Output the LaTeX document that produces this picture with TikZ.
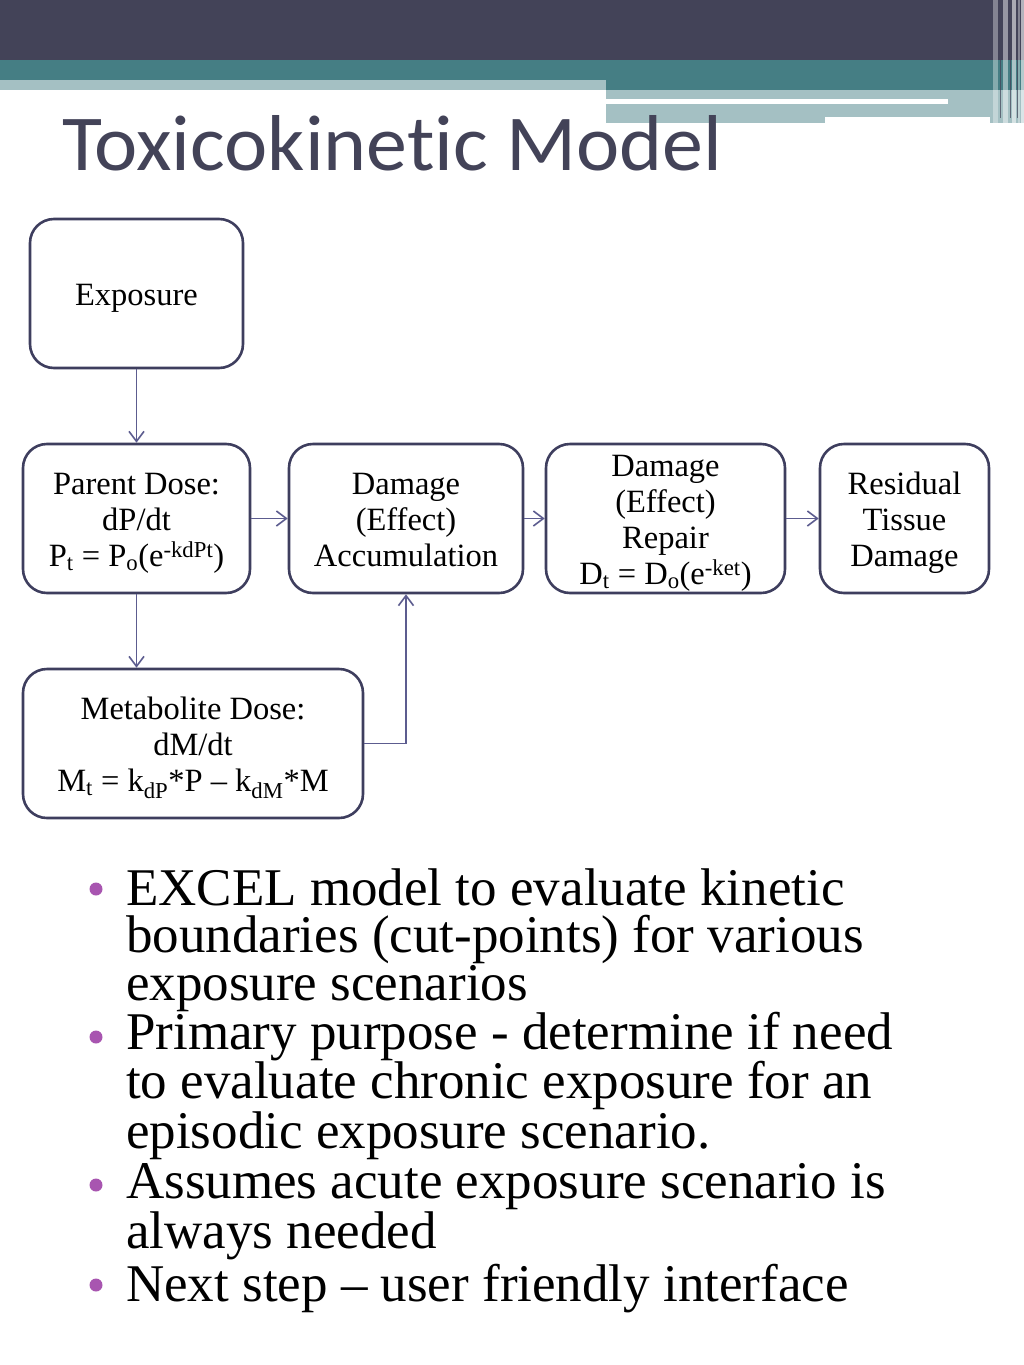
\documentclass[tikz,border=0pt]{standalone}
\usepackage{fontspec}
\setmainfont{Liberation Serif}
\newfontfamily\titlefont[Ligatures={NoCommon,NoRequired,NoContextual}]{Carlito}
\usetikzlibrary{arrows.meta}
\definecolor{darkband}{RGB}{67,67,88}
\definecolor{tealband}{RGB}{69,126,132}
\definecolor{lightband}{RGB}{164,192,195}
\definecolor{boxline}{RGB}{62,62,94}
\definecolor{arrowc}{RGB}{92,92,143}
\definecolor{bulletc}{RGB}{168,85,176}
\newcommand{\topstrut}{\rule{0pt}{31pt}}
\newcommand{\botstrut}{\rule[-8pt]{0pt}{8pt}}
\tikzset{
  flowbox/.style={draw=boxline, line width=2.6pt, rounded corners=24pt, fill=white,
    inner sep=0pt, align=center, minimum height=149pt,
    font=\fontsize{32.5}{36}\selectfont},
  flowarrow/.style={draw=arrowc, line width=1.6pt, -{Straight Barb[length=10pt,width=15pt,line width=1.6pt]}},
  bulletline/.style={anchor=base west, align=left, inner sep=0pt,
    font=\fontsize{53}{47.5}\selectfont},
  bulletdot/.style={fill=bulletc}
}
\begin{document}
\begin{tikzpicture}[x=1pt,y=-1pt]
\useasboundingbox (0,0) rectangle (1024,1365);
\fill[white] (0,0) rectangle (1024,1365);
% header bands
\fill[darkband] (0,0) rectangle (1024,60);
\fill[tealband] (0,60) rectangle (1024,90);
\fill[lightband] (0,80) rectangle (606,90);
\fill[lightband] (606,90) rectangle (825,123);
\fill[lightband] (825,90) rectangle (1005,117);
\fill[white] (606,99) rectangle (948,104);
% right stripes
\fill[lightband] (990,90) rectangle (1024,123);
\foreach \xa/\w/\op in {993/5/0.35, 1003/5/0.45, 1012/4/0.55, 1018/2/0.35, 1021/3/0.6}{
  \fill[white, opacity=\op] (\xa,0) rectangle (\xa+\w,123);
}
\foreach \xa in {999.5, 1009.5, 1016.5}{
  \fill[darkband, opacity=0.7] (\xa,0) rectangle (\xa+1.5,118);
}
% title
\node[anchor=base west, inner sep=0pt, text=darkband] (title) at (62,170)
  {\resizebox{660pt}{55pt}{\titlefont Toxicokinetic Model}};
% boxes
\node[flowbox, minimum width=213pt] (expo) at (136.5,293.5) {\topstrut Exposure};
\node[flowbox, minimum width=227pt] (parent) at (136.5,518.5)
  {\topstrut Parent Dose:\\dP/dt\\P\textsubscript{t} = P\textsubscript{o}(e\textsuperscript{-kdPt})};
\node[flowbox, minimum width=234pt] (accum) at (406,518.5)
  {\topstrut Damage\\(Effect)\\Accumulation\botstrut};
\node[flowbox, minimum width=239pt] (repair) at (665.5,518.5)
  {\topstrut Damage\\(Effect)\\Repair\\D\textsubscript{t} = D\textsubscript{o}(e\textsuperscript{-ket})};
\node[flowbox, minimum width=169pt] (resid) at (904.5,518.5)
  {\topstrut Residual\\Tissue\\Damage};
\node[flowbox, minimum width=340pt] (metab) at (193,743.5)
  {\topstrut Metabolite Dose:\\dM/dt\\M\textsubscript{t} = k\textsubscript{dP}*P -- k\textsubscript{dM}*M};
% connectors
\draw[flowarrow] (expo.south) -- (parent.north);
\draw[flowarrow] (parent.south) -- (parent.south |- metab.north);
\draw[flowarrow] (parent.east) -- (accum.west);
\draw[flowarrow] (accum.east) -- (repair.west);
\draw[flowarrow] (repair.east) -- (resid.west);
\draw[flowarrow] (metab.east) -| (accum.south);
% bullets (anchored at the baseline of their last line)
\node[bulletline] (b1) at (126,1000)
  {EXCEL model to evaluate kinetic\\boundaries (cut-points) for various\\exposure scenarios};
\node[bulletline] (b2) at (126,1148)
  {Primary purpose - determine if need\\to evaluate chronic exposure for an\\episodic exposure scenario.};
\node[bulletline] (b3) at (126,1248)
  {Assumes acute exposure scenario is\\always needed};
\node[bulletline] (b4) at (126,1301)
  {Next step -- user friendly interface};
\foreach \yb in {905,1053,1201,1301}{
  \fill[bulletdot] (96,\yb-16) circle (6.5pt);
}
\end{tikzpicture}
\end{document}
